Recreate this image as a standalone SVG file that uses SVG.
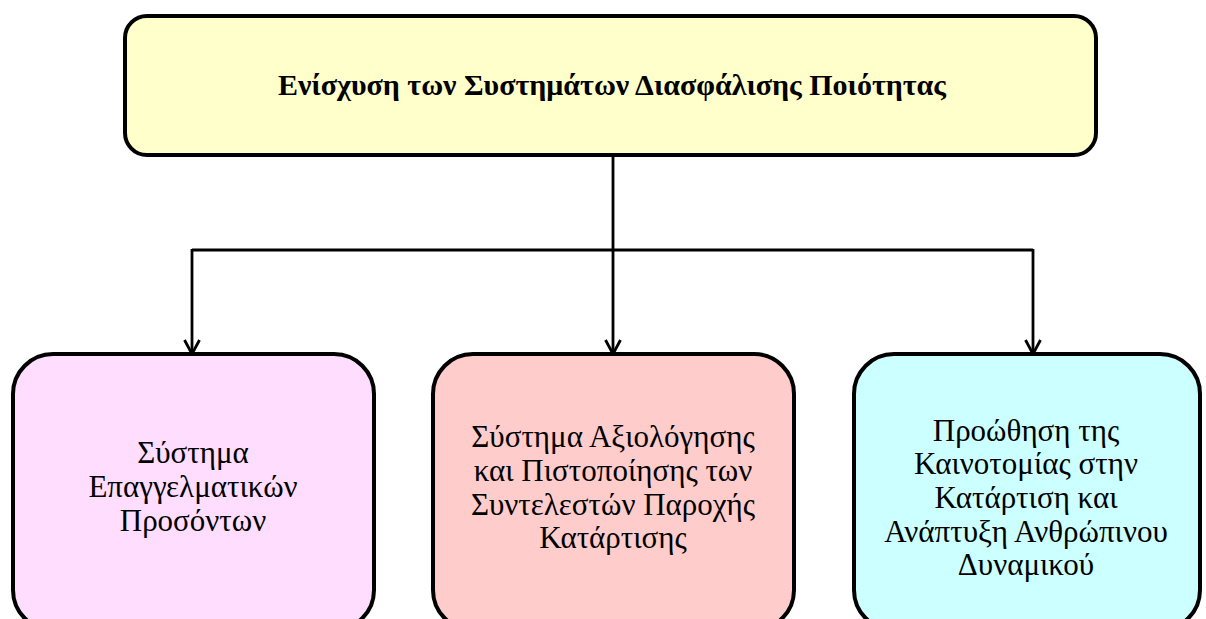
<svg xmlns="http://www.w3.org/2000/svg" width="1206" height="619" viewBox="0 0 1206 619">
<style>
.box{stroke:#000;stroke-width:4}
.t{font-family:"Liberation Serif","Times New Roman",serif;font-size:31px;fill:#000;text-anchor:middle}
.tb{font-family:"Liberation Serif","Times New Roman",serif;font-size:30px;font-weight:bold;fill:#000;text-anchor:middle}
.c{fill:none;stroke:#000;stroke-width:2.8}
</style>
<defs>
<marker id="arr" markerWidth="18" markerHeight="18" refX="16" refY="9" orient="auto" markerUnits="userSpaceOnUse" viewBox="0 0 18 18">
<polyline points="2,1.5 16,9 2,16.5" fill="none" stroke="#000" stroke-width="2.8"/>
</marker>
</defs>
<rect width="1206" height="619" fill="#fff"/>
<g id="connectors">
<line class="c" x1="613" y1="155" x2="613" y2="250"/>
<line class="c" x1="192" y1="250" x2="1033" y2="250"/>
<line class="c" x1="192" y1="249" x2="192" y2="354" marker-end="url(#arr)"/>
<line class="c" x1="613" y1="250" x2="613" y2="354" marker-end="url(#arr)"/>
<line class="c" x1="1033" y1="249" x2="1033" y2="354" marker-end="url(#arr)"/>
</g>
<g id="top">
<rect class="box" x="125" y="16" width="971" height="139" rx="22" fill="#FFFFCC"/>
<text class="tb" x="612" y="95">Ενίσχυση των Συστημάτων Διασφάλισης Ποιότητας</text>
</g>
<g id="left">
<rect class="box" x="13" y="354" width="361" height="276" rx="40" fill="#FFDDFF"/>
<text class="t" x="193" y="463">Σύστημα</text>
<text class="t" x="193" y="497">Επαγγελματικών</text>
<text class="t" x="193" y="531">Προσόντων</text>
</g>
<g id="middle">
<rect class="box" x="433" y="354" width="361" height="276" rx="40" fill="#FFCCCC"/>
<text class="t" x="613" y="447">Σύστημα Αξιολόγησης</text>
<text class="t" x="613" y="481">και Πιστοποίησης των</text>
<text class="t" x="613" y="515">Συντελεστών Παροχής</text>
<text class="t" x="613" y="548">Κατάρτισης</text>
</g>
<g id="right">
<rect class="box" x="854" y="354" width="346" height="276" rx="40" fill="#CCFFFF"/>
<text class="t" x="1026" y="441">Προώθηση της</text>
<text class="t" x="1026" y="474">Καινοτομίας στην</text>
<text class="t" x="1026" y="508">Κατάρτιση και</text>
<text class="t" x="1026" y="542">Ανάπτυξη Ανθρώπινου</text>
<text class="t" x="1026" y="575">Δυναμικού</text>
</g>
</svg>
